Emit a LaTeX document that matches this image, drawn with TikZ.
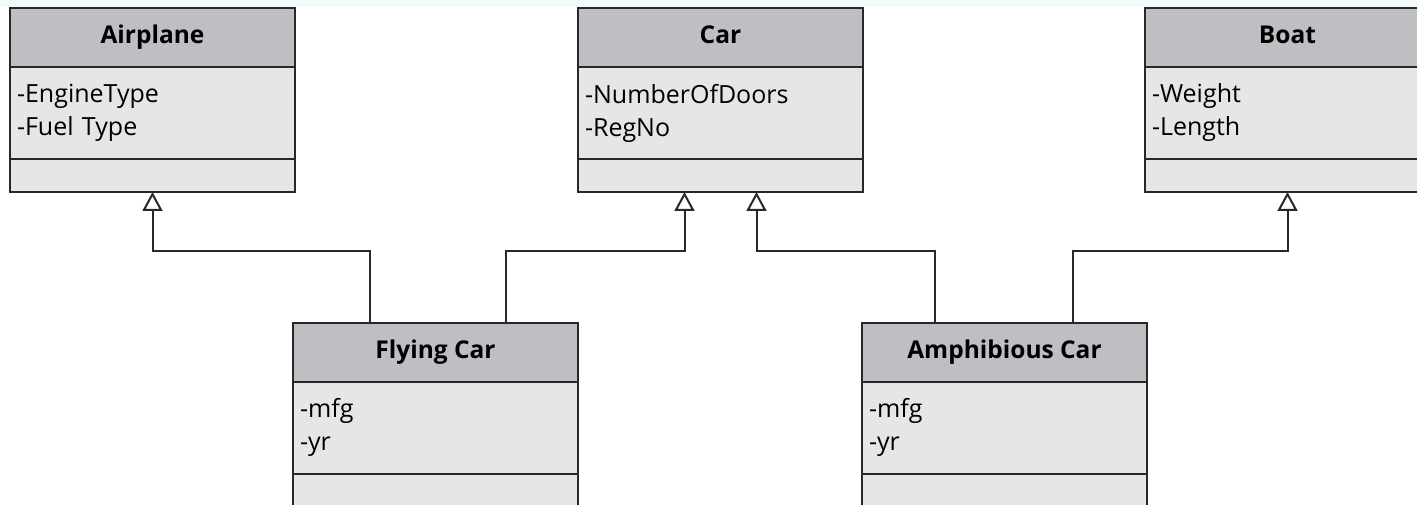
\documentclass[tikz,border=0pt]{standalone}
\usepackage{fontspec}
\setmainfont{Open Sans}
\usetikzlibrary{positioning,arrows.meta}
\definecolor{headgray}{RGB}{190,191,195}
\definecolor{bodygray}{RGB}{230,230,230}
\definecolor{linegray}{RGB}{40,40,40}
\definecolor{topstrip}{RGB}{243,250,252}

\begin{document}
\begin{tikzpicture}[x=1pt, y=-1pt,
  classhead/.style={draw=linegray, line width=2pt, fill=headgray, minimum width=285pt, minimum height=59pt, text height=18pt, text depth=5pt, outer sep=0pt, font=\fontsize{24.5}{28}\selectfont\bfseries},
  classattr/.style={draw=linegray, line width=2pt, fill=bodygray, minimum height=92pt, text width=271pt, inner xsep=7pt, align=left, outer sep=0pt, font=\fontsize{25}{33}\selectfont},
  classops/.style={draw=linegray, line width=2pt, fill=bodygray, minimum width=285pt, minimum height=33pt, outer sep=0pt},
  gen/.style={draw=linegray, line width=2pt, -{Triangle[open, width=20pt, length=19pt]}}]
\useasboundingbox (0,0) rectangle (1417,505);
\clip (0,0) rectangle (1417,505);
\fill[topstrip] (0,0) rectangle (1417,7);

\foreach \n/\x/\y/\t/\a in {airplane/152.5/37.5/Airplane/{-EngineType\\-Fuel Type},
                            car/720.5/37.5/Car/{-NumberOfDoors\\-RegNo},
                            boat/1287.5/37.5/Boat/{-Weight\\-Length},
                            flying/435.5/352/Flying Car/{-mfg\\-yr},
                            amph/1004.5/352/Amphibious Car/{-mfg\\-yr}}
{
  \node[classhead] (\n) at (\x,\y) {\t};
  \node[classattr, below=0pt of \n] (\n-attr) {\a};
  \node[classops, below=0pt of \n-attr] (\n-ops) {};
}

\draw[gen] ([xshift=-66pt]flying.north) -- ++(0,-71) -| (airplane-ops.south);
\draw[gen] ([xshift=70pt]flying.north) -- ++(0,-71) -| ([xshift=-36pt]car-ops.south);
\draw[gen] ([xshift=-70pt]amph.north) -- ++(0,-71) -| ([xshift=36pt]car-ops.south);
\draw[gen] ([xshift=68pt]amph.north) -- ++(0,-71) -| (boat-ops.south);
\end{tikzpicture}
\end{document}
